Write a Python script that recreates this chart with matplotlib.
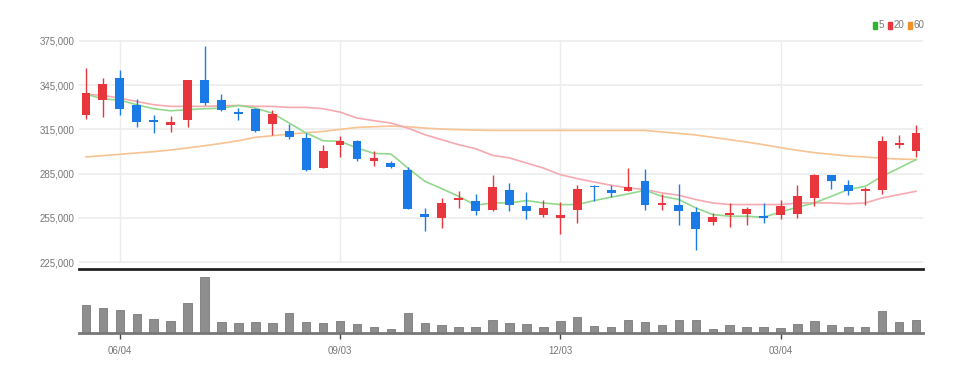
import numpy as np
import matplotlib
matplotlib.use("Agg")
import matplotlib.pyplot as plt
from matplotlib import font_manager
from matplotlib.patches import Rectangle
from matplotlib.ticker import FuncFormatter

# weekly candles (thousand won)
opens = [324.7, 335.1, 349.7, 331.2, 321.3, 317.7, 321.5, 348.2, 334.6, 326.5,
         329.0, 318.6, 314.1, 309.1, 289.0, 304.6, 307.3, 293.3, 292.4, 287.7,
         257.5, 255.0, 267.2, 266.7, 260.6, 273.9, 263.3, 256.8, 255.0, 260.6,
         276.9, 274.2, 273.0, 279.8, 263.8, 264.0, 259.0, 252.3, 256.8, 257.9,
         256.1, 257.2, 257.9, 268.5, 283.9, 277.1, 273.5, 273.9, 304.6, 300.6]
closes = [339.4, 345.9, 329.0, 320.0, 319.7, 319.7, 348.2, 332.6, 328.3, 325.4,
          313.6, 325.4, 309.8, 287.7, 300.1, 306.9, 294.9, 295.8, 289.5, 261.3,
          255.9, 265.1, 268.5, 259.5, 276.2, 264.0, 259.3, 261.7, 257.0, 274.8,
          275.7, 272.1, 275.7, 264.0, 264.7, 259.5, 247.1, 255.9, 258.4, 261.1,
          255.0, 263.3, 269.6, 284.3, 280.2, 273.0, 274.8, 306.9, 306.0, 312.5]
highs = [356.5, 349.7, 355.4, 335.7, 324.9, 324.2, 348.5, 371.8, 339.1, 329.4,
         329.4, 328.3, 318.6, 312.5, 304.6, 310.7, 307.5, 300.1, 293.8, 289.3,
         261.7, 268.5, 273.0, 271.2, 284.3, 278.4, 272.6, 267.2, 265.8, 277.1,
         277.1, 277.1, 288.8, 288.4, 271.2, 278.0, 262.2, 258.4, 265.1, 262.2,
         265.1, 267.4, 277.1, 284.5, 284.1, 280.7, 275.7, 310.3, 311.4, 317.7]
lows = [322.2, 323.3, 324.9, 316.8, 312.3, 313.2, 316.8, 331.2, 327.2, 321.3,
        313.3, 311.4, 308.7, 286.6, 288.8, 296.0, 293.3, 290.4, 288.8, 260.8,
        246.4, 248.2, 261.7, 257.2, 259.9, 259.5, 254.5, 255.9, 244.2, 251.4,
        266.3, 269.4, 273.0, 260.6, 260.6, 250.0, 232.9, 250.0, 248.7, 250.0,
        251.6, 254.5, 255.0, 262.9, 274.8, 270.8, 263.6, 271.2, 302.4, 296.0]
volumes = [280, 247, 230, 187, 143, 117, 303, 557, 110, 100,
           110, 100, 203, 110, 100, 117, 93, 63, 43, 197,
           100, 77, 63, 63, 127, 100, 90, 63, 117, 160,
           73, 63, 127, 110, 83, 127, 127, 40, 83, 63,
           63, 53, 93, 117, 83, 63, 63, 217, 110, 127]

ma5 = [338.9, 335.7, 334.8, 331.7, 329.0, 327.6, 328.3, 329.0, 329.4, 331.2,
       329.4, 326.0, 319.3, 312.5, 307.3, 306.9, 302.4, 298.7, 298.3, 288.8,
       279.8, 274.8, 269.6, 263.5, 265.1, 265.1, 266.7, 265.1, 264.0, 264.0,
       266.7, 269.0, 271.2, 273.7, 269.6, 267.4, 261.7, 257.2, 256.1, 256.1,
       255.4, 259.0, 262.2, 265.1, 269.6, 274.2, 276.4, 283.2, 288.8, 294.5]
ma20 = [338.9, 338.0, 336.2, 333.9, 331.7, 330.6, 330.6, 330.6, 331.0, 331.2,
        330.6, 330.6, 329.9, 329.9, 329.0, 326.7, 322.7, 320.9, 319.3, 315.9,
        311.4, 308.0, 304.6, 301.9, 297.4, 295.6, 292.2, 288.8, 284.3, 281.6,
        279.3, 277.1, 275.3, 274.2, 271.9, 270.3, 267.4, 265.1, 264.0, 264.0,
        264.0, 264.0, 265.1, 265.1, 265.1, 264.5, 265.1, 268.5, 270.8, 273.0]
ma60 = [296.3, 297.2, 298.1, 299.0, 299.9, 301.0, 302.4, 303.9, 305.5, 307.3,
        309.6, 310.7, 311.8, 312.7, 313.6, 315.0, 316.3, 316.8, 317.2, 316.8,
        315.9, 315.2, 314.8, 314.5, 314.3, 314.3, 314.3, 314.3, 314.3, 314.3,
        314.3, 314.3, 314.3, 314.3, 313.2, 312.3, 311.2, 309.6, 308.0, 306.4,
        304.6, 302.6, 300.8, 299.2, 298.1, 296.9, 296.3, 295.4, 294.9, 294.5]

tick_idx = [2, 15, 28, 41]
tick_labels = ["06/04", "09/03", "12/03", "03/04"]
y_ticks = [225000, 255000, 285000, 315000, 345000, 375000]

UP = "#e8363c"
DOWN = "#1a7be6"
GRID = "#ececec"
TXT = "#777777"

# narrow font if one is around, else a smaller Liberation Sans
names = {f.name for f in font_manager.fontManager.ttflist}
if "Liberation Sans Narrow" in names:
    plt.rcParams["font.family"] = ["Liberation Sans Narrow", "DejaVu Sans"]
    FS = 8
else:
    plt.rcParams["font.family"] = ["Liberation Sans", "DejaVu Sans"]
    FS = 7

x = np.arange(len(opens))
o = np.array(opens) * 1000
c = np.array(closes) * 1000
h = np.array(highs) * 1000
l = np.array(lows) * 1000

fig = plt.figure(figsize=(9.71, 3.74), dpi=100)
ax = fig.add_axes([79 / 971, 105 / 374, 844 / 971, 234 / 374])
axv = fig.add_axes([79 / 971, 41 / 374, 844 / 971, 64 / 374])

# grid
for yt in y_ticks:
    ax.axhline(yt, color=GRID, lw=1.2, zorder=0)
for ti in tick_idx:
    ax.plot([ti, ti], [225000, 375000], color=GRID, lw=1, zorder=0)

# moving averages
ax.plot(x, np.array(ma60) * 1000, color="#f8c293", lw=1.2, zorder=1)
ax.plot(x, np.array(ma20) * 1000, color="#f5a9b0", lw=1.2, zorder=1)
ax.plot(x, np.array(ma5) * 1000, color="#92d98d", lw=1.2, zorder=1)

# candles
cols = [UP if cc >= oo else DOWN for oo, cc in zip(o, c)]
ax.vlines(x, l, h, colors=cols, lw=1, zorder=2)
bottoms = np.minimum(o, c)
heights = np.maximum(np.abs(c - o), 1200)
ax.bar(x, heights, bottom=bottoms, width=0.52, color=cols, zorder=3)

ax.set_xlim(-0.41, 49.41)
ax.set_ylim(220300, 379000)
ax.set_yticks(y_ticks)
ax.yaxis.set_major_formatter(FuncFormatter(lambda v, p: f"{int(v):,}"))
ax.tick_params(axis="y", length=0, pad=3, labelsize=FS, labelcolor=TXT)
ax.set_xticks([])
for s in ["top", "right", "left"]:
    ax.spines[s].set_visible(False)
ax.spines["bottom"].set_color("#222222")
ax.spines["bottom"].set_linewidth(2)

# volume
axv.bar(x, volumes, width=0.5, color="#8e8e8e", edgecolor="#7a7a7a", lw=0.6)
axv.set_xlim(-0.41, 49.41)
axv.set_ylim(0, 640)
axv.set_yticks([])
axv.set_xticks(tick_idx)
axv.set_xticklabels(tick_labels)
axv.tick_params(axis="x", length=4, width=1, color="#444444", pad=5,
                labelsize=FS, labelcolor=TXT)
for s in ["top", "right", "left"]:
    axv.spines[s].set_visible(False)
axv.spines["bottom"].set_color("#777777")
axv.spines["bottom"].set_linewidth(2)
axv.patch.set_alpha(0)

# legend
legend = [("5", "#2fb52f"), ("20", "#e8363c"), ("60", "#f0902a")]
lx = 873
for lab, col in legend:
    fig.patches.append(Rectangle((lx / 971, (374 - 29) / 374), 4 / 971, 7 / 374,
                                 transform=fig.transFigure, color=col))
    fig.text((lx + 5.5) / 971, (374 - 25.5) / 374, lab, fontsize=FS, color=TXT,
             va="center", ha="left")
    lx += 5.5 + 4.5 * len(lab) + 5

fig.savefig("out.png", dpi=100)
